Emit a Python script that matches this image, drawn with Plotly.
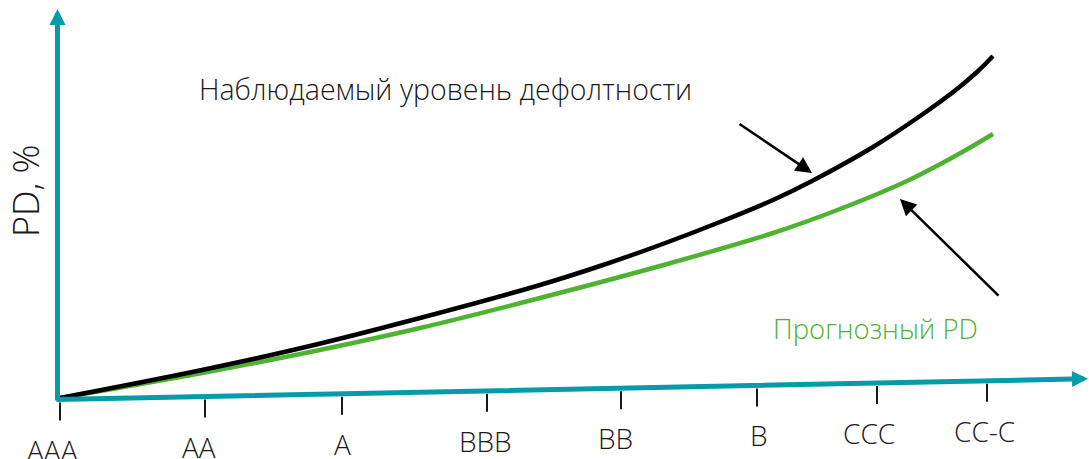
import plotly.graph_objects as go

# ---- data (schematic values) ----
ratings = ["AAA", "AA", "A", "BBB", "BB", "B", "CCC", "CC-C"]
rating_pos = [0, 145, 282, 427, 561, 697, 817, 927]

observed_x = [0, 142, 250, 360, 480, 540, 600, 660, 713, 752, 813, 863, 897, 917, 933]
observed_pd = [1, 29, 53, 81, 114, 133, 154, 177, 199, 218, 252, 285, 310, 327, 343]

forecast_x = [0, 142, 250, 360, 480, 600, 713, 780, 847, 897, 933]
forecast_pd = [1, 26, 47, 71, 101, 133, 166, 190, 218, 244, 265]

label_observed = "Наблюдаемый уровень дефолтности"
label_forecast = "Прогнозный PD"
y_title = "PD, %"

# ---- styling ----
TEAL = "#079AA8"
GREEN = "#4DB331"
FONT = "Open Sans"
AX_SLOPE = 0.0202
AX_Y0 = -0.5


def axis_y(x):
    return AX_Y0 + AX_SLOPE * x


fig = go.Figure()

# tick marks below the tilted rating axis
tx, ty = [], []
for p in rating_pos:
    tx += [p, p, None]
    ty += [axis_y(p) - 3, axis_y(p) - 21, None]
fig.add_trace(go.Scatter(x=tx, y=ty, mode="lines",
                         line=dict(color="#1a1a1a", width=2),
                         hoverinfo="skip", showlegend=False))

fig.add_trace(go.Scatter(x=forecast_x, y=forecast_pd, mode="lines",
                         line=dict(color=GREEN, width=4.5, shape="spline", smoothing=1.0),
                         name=label_forecast, showlegend=False))
fig.add_trace(go.Scatter(x=observed_x, y=observed_pd, mode="lines",
                         line=dict(color="black", width=4.5, shape="spline", smoothing=1.0),
                         name=label_observed, showlegend=False))

ann = []
# axes as arrows
ann.append(dict(x=1028, y=axis_y(1028), ax=-5, ay=axis_y(-5),
                xref="x", yref="y", axref="x", ayref="y", text="",
                showarrow=True, arrowhead=2, arrowsize=0.64, arrowwidth=5,
                arrowcolor=TEAL, standoff=0, startstandoff=0))
ann.append(dict(x=-2.5, y=390, ax=-2.5, ay=-3,
                xref="x", yref="y", axref="x", ayref="y", text="",
                showarrow=True, arrowhead=2, arrowsize=0.64, arrowwidth=5,
                arrowcolor=TEAL, standoff=0, startstandoff=0))

# pointer arrows
ann.append(dict(x=752, y=226, ax=678, ay=276,
                xref="x", yref="y", axref="x", ayref="y", text="",
                showarrow=True, arrowhead=2, arrowsize=1.3, arrowwidth=2.5,
                arrowcolor="black", standoff=0))
ann.append(dict(x=840, y=200, ax=940, ay=102,
                xref="x", yref="y", axref="x", ayref="y", text="",
                showarrow=True, arrowhead=2, arrowsize=1.3, arrowwidth=2.5,
                arrowcolor="black", standoff=0))

# tick labels
label_shift = [-8, -6, 0, -2, -6, 2, -8, -3]
for p, r, s in zip(rating_pos, ratings, label_shift):
    ann.append(dict(x=p, y=axis_y(p) - 50, text=r, showarrow=False,
                    xref="x", yref="y", xanchor="center", yanchor="middle",
                    xshift=s, font=dict(family=FONT, size=28, color="#1a1a1a", weight=300)))

ann.append(dict(x=385, y=310, text=label_observed, showarrow=False,
                xref="x", yref="y", xanchor="center", yanchor="middle",
                font=dict(family=FONT, size=28.5, color="#1a1a1a", weight=300)))
ann.append(dict(x=815, y=71, text=label_forecast, showarrow=False,
                xref="x", yref="y", xanchor="center", yanchor="middle",
                font=dict(family=FONT, size=27.5, color=GREEN, weight=300)))
ann.append(dict(x=-35, y=208, text=y_title, showarrow=False, textangle=-90,
                xref="x", yref="y", xanchor="center", yanchor="middle",
                font=dict(family=FONT, size=36, color="#1a1a1a", weight=300)))

fig.update_layout(
    width=1089, height=459,
    margin=dict(l=0, r=0, t=0, b=0),
    paper_bgcolor="white", plot_bgcolor="white",
    xaxis=dict(range=[-60, 1029], visible=False, fixedrange=True),
    yaxis=dict(range=[-60, 399], visible=False, fixedrange=True),
    annotations=ann,
    showlegend=False,
)

fig.write_html("out.html")
